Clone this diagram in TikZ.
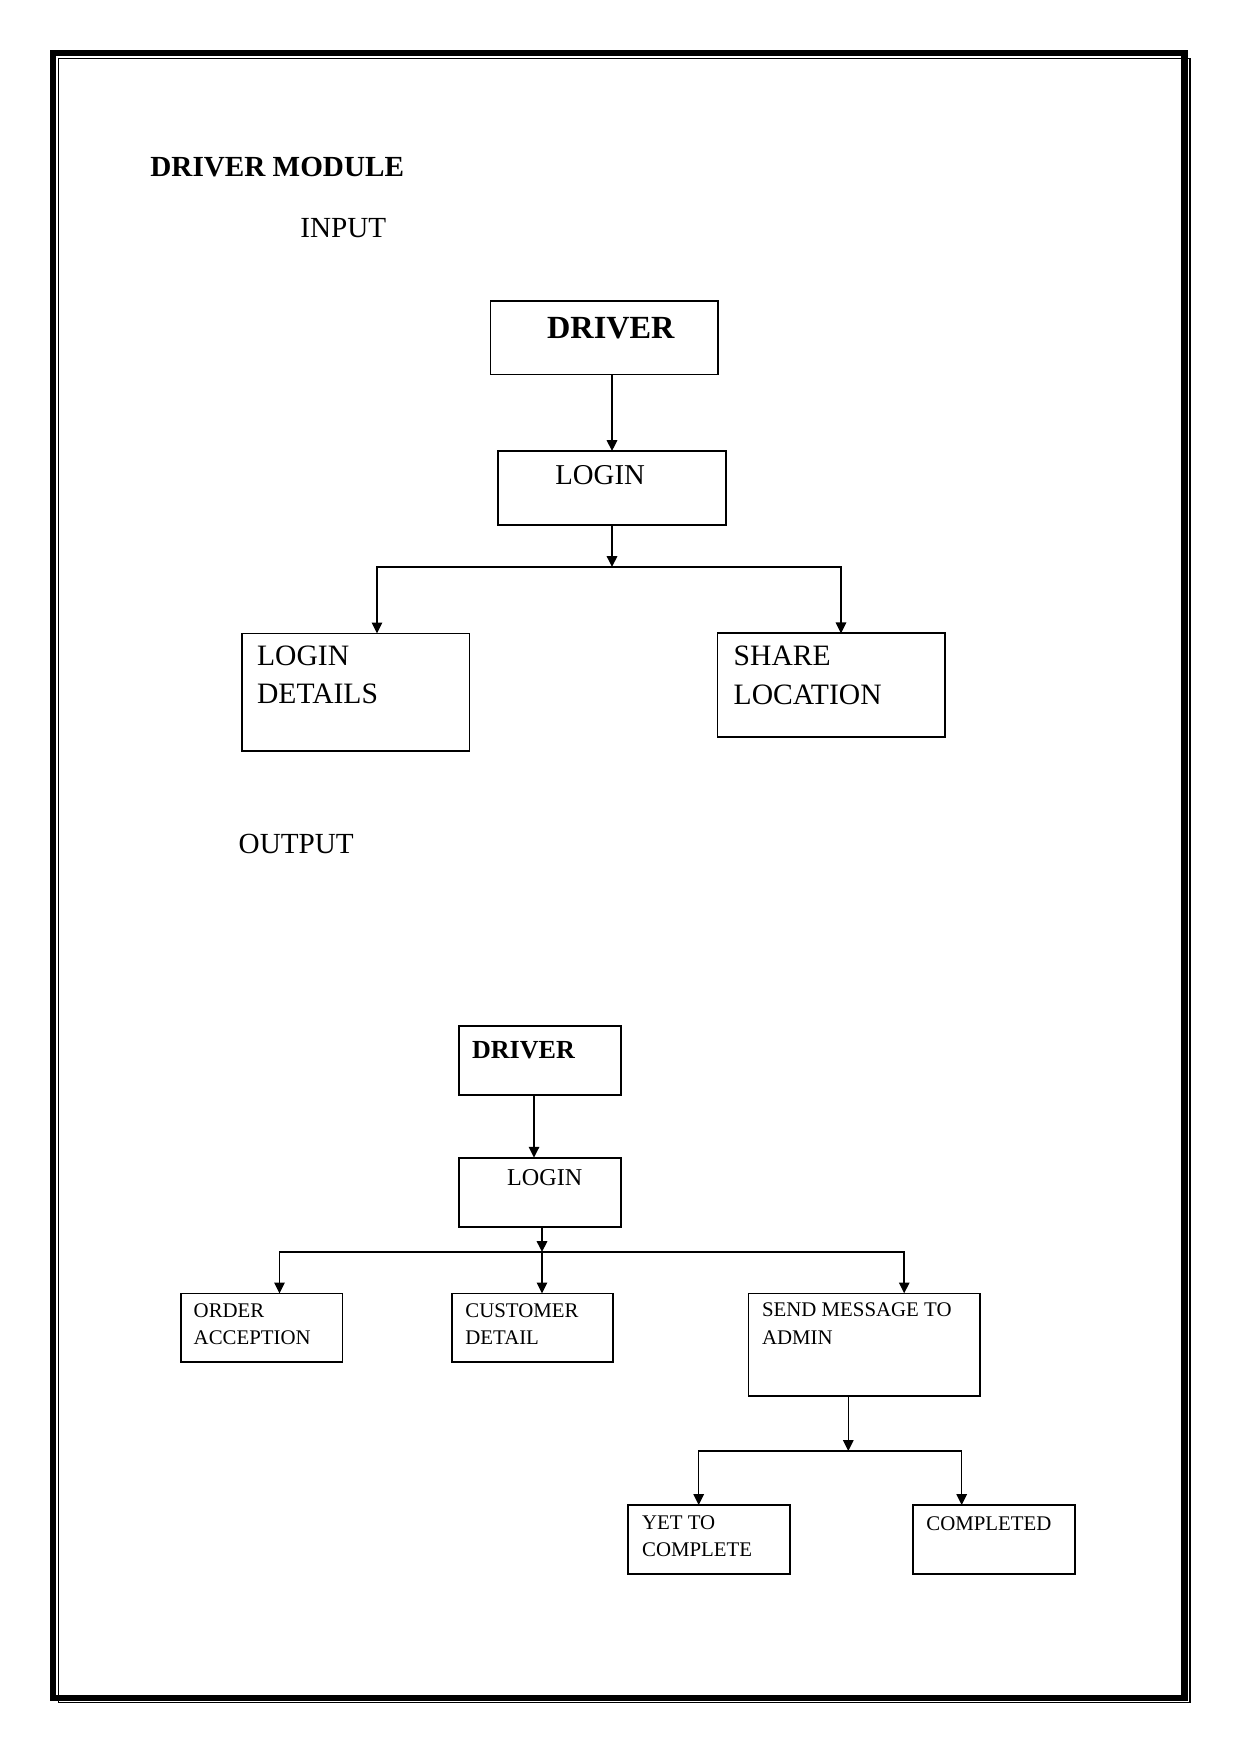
\documentclass[tikz,border=0pt]{standalone}
\usepackage{fontspec}
\setmainfont{Liberation Serif}
\usepackage{tikz}
\usetikzlibrary{arrows.meta}
\usetikzlibrary{calc}

\begin{document}
\begin{tikzpicture}[x=0.48pt, y=-0.48pt,
    box/.style={draw, rectangle, line width=0.8pt, inner sep=0pt, outer sep=0pt},
    lbl/.style={anchor=base west, inner sep=0pt, align=left},
    arr/.style={-{Triangle[length=5.2pt,width=5pt]}, line width=0.75pt}]
    \useasboundingbox (0,0) rectangle (1241,1754);
    % page border
    \draw[line width=3.1pt] (53,53) rectangle (1184.5,1698);
    \draw[line width=0.7pt] (58.3,58.3) rectangle (1190,1702.5);

    \node[lbl, font=\bfseries\fontsize{14}{17}\selectfont] (title) at (150,176.7) {DRIVER MODULE};
    \node[lbl, font=\fontsize{14}{17}\selectfont] (inp) at (300,237) {INPUT};
    \node[lbl, font=\fontsize{14}{17}\selectfont] (outp) at (238.3,853.3) {OUTPUT};

    % input tree
    \node[box, minimum width=109pt, minimum height=35.2pt] (idrv) at (604.2,337.7) {};
    \node[box, minimum width=109.2pt, minimum height=35.5pt] (ilog) at (612,488) {};
    \node[box, minimum width=109pt, minimum height=56.5pt] (idet) at (355.8,692.2) {};
    \node[box, minimum width=109.3pt, minimum height=49.9pt] (iloc) at (831.2,685.3) {};

    % multi-line labels sit on the baseline of their last line
    \node[lbl, font=\bfseries\fontsize{15.5}{18}\selectfont] (idrvt) at (546.7,338.3) {DRIVER};
    \node[lbl, font=\fontsize{13.8}{18}\selectfont] (ilogt) at (555,484) {LOGIN};
    \node[lbl, font=\fontsize{14.2}{18.1}\selectfont] (idett) at (256.7,703.3) {LOGIN\\DETAILS};
    \node[lbl, font=\fontsize{14.2}{18.3}\selectfont] (iloct) at (733.3,704) {SHARE\\LOCATION};

    \coordinate (ibr) at (612,567);
    \draw[arr] (ilog.north |- idrv.south) -- (ilog.north);
    \draw[arr] (ilog) -- (ibr);
    \draw[arr] (ibr) -| ($(idet.north)+(21.2,0)$);
    \draw[arr] (ibr) -| ($(iloc.north)+(9.8,0)$);

    % output tree
    \node[box, minimum width=77.8pt, minimum height=33.1pt] (odrv) at (540,1060.5) {};
    \node[box, minimum width=77.8pt, minimum height=33.1pt] (olog) at (540,1192.2) {};
    \node[box, minimum width=77.6pt, minimum height=32.8pt] (ordr) at (261.5,1327.5) {};
    \node[box, minimum width=77.3pt, minimum height=32.8pt] (cust) at (532.5,1327.5) {};
    \node[box, minimum width=111.2pt, minimum height=49.3pt] (send) at (864.2,1344.7) {};
    \node[box, minimum width=77.8pt, minimum height=33.1pt] (yet) at (709,1539.5) {};
    \node[box, minimum width=77.8pt, minimum height=33.1pt] (comp) at (994,1539.5) {};

    \node[lbl, font=\bfseries\fontsize{12.5}{15}\selectfont] (odrvt) at (471.7,1058.3) {DRIVER};
    \node[lbl, font=\fontsize{11.6}{14}\selectfont] (ologt) at (506.7,1185.7) {LOGIN};
    \node[lbl, font=\fontsize{10}{13}\selectfont] (ordrt) at (193.3,1344.3) {ORDER\\ACCEPTION};
    \node[lbl, font=\fontsize{10}{13}\selectfont] (custt) at (465,1344.3) {CUSTOMER\\DETAIL};
    \node[lbl, font=\fontsize{10}{13.2}\selectfont] (sendt) at (761.7,1344.3) {SEND MESSAGE TO\\ADMIN};
    \node[lbl, font=\fontsize{10}{13.1}\selectfont] (yett) at (641.7,1556.7) {YET TO\\COMPLETE};
    \node[lbl, font=\fontsize{10}{13}\selectfont] (compt) at (926,1530.7) {COMPLETED};

    \coordinate (obr) at (542,1252);
    \coordinate (sbr) at (848.3,1451);
    \draw[arr] ($(odrv.south)+(-6,0)$) -- ($(olog.north)+(-6,0)$);
    \draw[arr] ($(olog.south)+(2,0)$) -- (obr);
    \draw[arr] (obr) -| ($(ordr.north)+(18,0)$);
    \draw[arr] (obr) -- ($(cust.north)+(9.5,0)$);
    \draw[arr] (obr) -| ($(send.north)+(40,0)$);
    \draw[arr] ($(send.south)+(-15.9,0)$) -- (sbr);
    \draw[arr] (sbr) -| ($(yet.north)+(-10.3,0)$);
    \draw[arr] (sbr) -| ($(comp.north)+(-32.3,0)$);
\end{tikzpicture}
\end{document}
